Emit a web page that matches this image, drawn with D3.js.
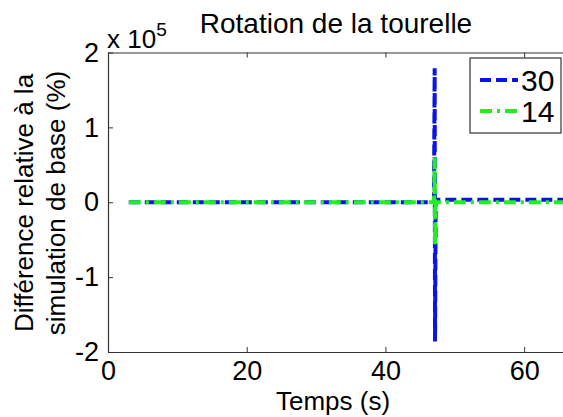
<!DOCTYPE html>
<html>
<head>
<meta charset="utf-8">
<script src="https://cdn.jsdelivr.net/npm/d3@7"></script>
<style>
  body { margin: 0; background: #fff; }
  text { font-family: Arial, "Liberation Sans", sans-serif; fill: #000; }
</style>
</head>
<body>
<div id="chart"></div>
<script>
// time (s) and relative difference (%) for each series
const time30 = [3, 10, 20, 30, 40, 47.0, 47.1, 47.15, 47.25, 50, 60, 70]
const val30 = [0, 0, 0, 0, 0, 0, 179000, -186000, 3500, 3500, 3500, 3500]
const time14 = [3, 10, 20, 30, 40, 47.0, 47.1, 47.15, 47.25, 50, 60, 70]
const val14 = [0, 0, 0, 0, 0, 0, 60000, -58000, 0, 0, 0, 0]
const seriesNames = ["30", "14"]
const xTicks = [0, 20, 40, 60]
const yTicks = [-200000, -100000, 0, 100000, 200000]

const W = 563, H = 417
const MARGIN = { TOP: 52.5, LEFT: 108 }
const HEIGHT = 352 - MARGIN.TOP
const WIDTH = 593.5 - MARGIN.LEFT   // axis runs past the right edge

const svg = d3.select("#chart").append("svg")
    .attr("width", W)
    .attr("height", H)

const g = svg.append("g")
    .attr("transform", "translate(" + MARGIN.LEFT + "," + MARGIN.TOP + ")")

const x = d3.scaleLinear().domain([0, 70]).range([0, WIDTH])
const y = d3.scaleLinear().domain([-200000, 200000]).range([HEIGHT, 0])

// axes with ticks pointing inside
const xAxis = g.append("g")
    .attr("transform", "translate(0," + HEIGHT + ")")
    .call(d3.axisBottom(x).tickValues(xTicks).tickSizeInner(-5).tickSizeOuter(0).tickPadding(10))
const xTop = g.append("g")
    .call(d3.axisTop(x).tickValues(xTicks).tickSizeInner(-5).tickSizeOuter(0).tickFormat(""))
const yAxis = g.append("g")
    .call(d3.axisLeft(y).tickValues(yTicks).tickSizeInner(-5).tickSizeOuter(0).tickPadding(9)
        .tickFormat(d => d / 100000))

g.selectAll(".domain").attr("stroke", "#333").attr("stroke-width", 1.2)
g.selectAll(".tick line").attr("stroke", "#333")
g.selectAll(".tick text").attr("font-size", 27).attr("font-family", "Arial, 'Liberation Sans', sans-serif")
xAxis.selectAll(".tick text").attr("dy", "0.68em")

// lines
const line = d3.line().x(d => x(d[0])).y(d => y(d[1]))
const data30 = time30.map((t, i) => [t, val30[i]])
const data14 = time14.map((t, i) => [t, val14[i]])

g.append("defs").append("clipPath").attr("id", "clip")
    .append("rect").attr("width", WIDTH).attr("height", HEIGHT)

const lines = g.append("g").attr("clip-path", "url(#clip)")
lines.append("path").datum(data30)
    .attr("d", line)
    .attr("fill", "none")
    .attr("stroke", "#0a14e6")
    .attr("stroke-width", 4)
    .attr("stroke-dasharray", "11,5")
lines.append("path").datum(data14)
    .attr("d", line)
    .attr("fill", "none")
    .attr("stroke", "#22ee22")
    .attr("stroke-width", 4)
    .attr("stroke-dasharray", "12,5,3,5")

// title and labels
svg.append("text")
    .attr("x", 336).attr("y", 33)
    .attr("text-anchor", "middle")
    .attr("font-size", 28)
    .text("Rotation de la tourelle")

const mult = svg.append("text").attr("x", 107).attr("y", 48).attr("font-size", 26)
mult.append("tspan").text("x 10")
mult.append("tspan").attr("dy", -12).attr("font-size", 19).text("5")

svg.append("text")
    .attr("x", 333).attr("y", 410)
    .attr("text-anchor", "middle")
    .attr("font-size", 26)
    .text("Temps (s)")

const yl = svg.append("text")
    .attr("transform", "translate(0,203) rotate(-90)")
    .attr("text-anchor", "middle")
    .attr("font-size", 26)
yl.append("tspan").attr("x", 0).attr("y", 33).text("Différence relative à la")
yl.append("tspan").attr("x", 0).attr("y", 65).text("simulation de base (%)")

// legend
const lg = svg.append("g")
lg.append("rect")
    .attr("x", 470).attr("y", 58).attr("width", 91).attr("height", 75)
    .attr("fill", "#fff").attr("stroke", "#333").attr("stroke-width", 1.2)
const legStyles = [
    { color: "#0a14e6", dash: "11,5" },
    { color: "#22ee22", dash: "12,5,3,5" }
]
seriesNames.forEach((name, i) => {
    const cy = 80 + i * 31
    lg.append("line")
        .attr("x1", 480).attr("x2", 518).attr("y1", cy).attr("y2", cy)
        .attr("stroke", legStyles[i].color).attr("stroke-width", 4)
        .attr("stroke-dasharray", legStyles[i].dash)
    lg.append("text")
        .attr("x", 521).attr("y", cy + 11)
        .attr("font-size", 30)
        .text(name)
})
</script>
</body>
</html>
